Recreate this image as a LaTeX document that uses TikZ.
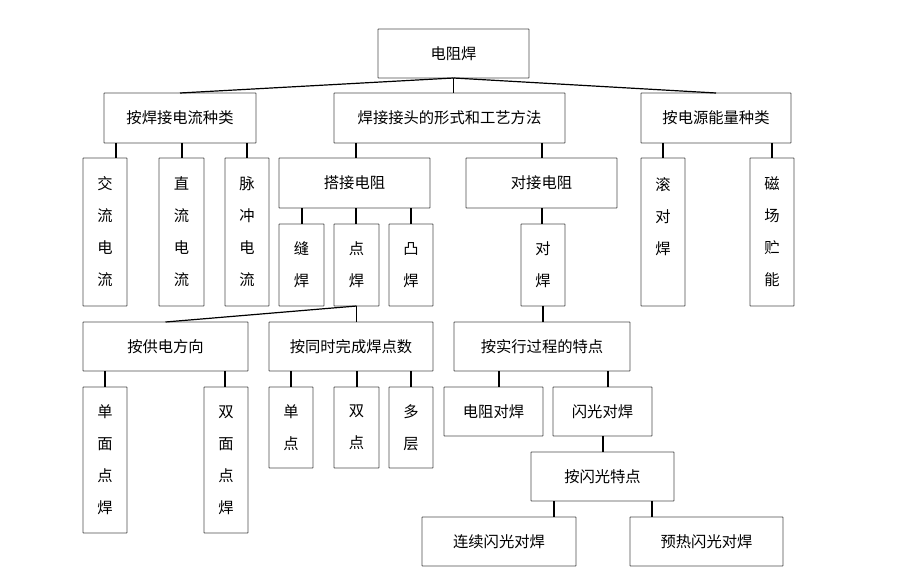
\documentclass[tikz,border=0pt]{standalone}
\usepackage{fontspec}
\newfontfamily\cjk{Noto Sans CJK SC}
\begin{document}
\begin{tikzpicture}[x=1pt,y=-1pt,
  box/.style={draw=black!70, line width=0.9pt, inner sep=0pt, outer sep=0pt,
    font=\cjk\fontsize{15.3}{32}\selectfont, align=center, rounded corners=0.6pt},
  conn/.style={draw=black, line width=1.2pt}]
\useasboundingbox (0,0) rectangle (905,575);
\newcommand\mybox[6]{%
  \node[box, minimum width={(#4-#2)*1pt}, minimum height={(#5-#3)*1pt}]
    (#1) at ({(#2+#4)/2},{(#3+#5)/2}) {#6};}
\mybox{root}{378}{29}{529}{78}{电阻焊}
\mybox{A}{104}{93}{256}{143}{按焊接电流种类}
\mybox{B}{334}{93}{565}{143}{焊接接头的形式和工艺方法}
\mybox{C}{641}{93}{791}{143}{按电源能量种类}
\mybox{A1}{83}{158}{127}{306}{交\\流\\电\\流}
\mybox{A2}{159}{158}{204}{306}{直\\流\\电\\流}
\mybox{A3}{225}{158}{269}{306}{脉\\冲\\电\\流}
\mybox{B1}{279}{158}{430}{208}{搭接电阻}
\mybox{B2}{466}{158}{617}{208}{对接电阻}
\mybox{C1}{641}{158}{685}{306}{滚\\对\\焊\\\mbox{}}
\mybox{C2}{750}{158}{794}{306}{磁\\场\\贮\\能}
\mybox{B11}{279}{224}{324}{306}{缝\\焊}
\mybox{B12}{334}{224}{379}{306}{点\\焊}
\mybox{B13}{389}{224}{433}{306}{凸\\焊}
\mybox{B21}{521}{224}{565}{306}{对\\焊}
\mybox{D1}{83}{322}{248}{371}{按供电方向}
\mybox{D2}{269}{322}{433}{371}{按同时完成焊点数}
\mybox{E}{454}{322}{630}{371}{按实行过程的特点}
\mybox{D11}{83}{387}{127}{533}{单\\面\\点\\焊}
\mybox{D12}{204}{387}{248}{533}{双\\面\\点\\焊}
\mybox{D21}{269}{387}{313}{468}{单\\点}
\mybox{D22}{334}{387}{379}{468}{双\\点}
\mybox{D23}{389}{387}{433}{468}{多\\层}
\mybox{E1}{444}{387}{543}{436}{电阻对焊}
\mybox{E2}{553}{387}{652}{436}{闪光对焊}
\mybox{F}{531}{452}{674}{501}{按闪光特点}
\mybox{F1}{422}{517}{576}{566}{连续闪光对焊}
\mybox{F2}{630}{517}{783}{566}{预热闪光对焊}
% connectors
\draw[conn] (root.south) -- (A.north);
\draw[conn] (root.south) -- (B.north -| root.south);
\draw[conn] (root.south) -- (C.north);
\draw[conn] (A.south -| 116,0) -- (A1.north -| 116,0);
\draw[conn] (A.south -| 182,0) -- (A2.north -| 182,0);
\draw[conn] (A.south -| 247,0) -- (A3.north -| 247,0);
\draw[conn] (B.south -| 356,0) -- (B1.north -| 356,0);
\draw[conn] (B.south -| 542,0) -- (B2.north -| 542,0);
\draw[conn] (C.south -| 663,0) -- (C1.north -| 663,0);
\draw[conn] (C.south -| 772,0) -- (C2.north -| 772,0);
\draw[conn] (B1.south -| 302,0) -- (B11.north -| 302,0);
\draw[conn] (B1.south -| 356,0) -- (B12.north -| 356,0);
\draw[conn] (B1.south -| 411,0) -- (B13.north -| 411,0);
\draw[conn] (B2.south -| 542,0) -- (B21.north -| 542,0);
\draw[conn] (B12.south) -- (D1.north);
\draw[conn] (B12.south) -- (D2.north -| B12.south);
\draw[conn] (B21.south -| 543,0) -- (E.north -| 543,0);
\draw[conn] (D1.south -| 105,0) -- (D11.north -| 105,0);
\draw[conn] (D1.south -| 225,0) -- (D12.north -| 225,0);
\draw[conn] (D2.south -| 291,0) -- (D21.north -| 291,0);
\draw[conn] (D2.south -| 357,0) -- (D22.north -| 357,0);
\draw[conn] (D2.south -| 411,0) -- (D23.north -| 411,0);
\draw[conn] (E.south -| 499,0) -- (E1.north -| 499,0);
\draw[conn] (E.south -| 608,0) -- (E2.north -| 608,0);
\draw[conn] (E2.south -| 603,0) -- (F.north -| 603,0);
\draw[conn] (F.south -| 554,0) -- (F1.north -| 554,0);
\draw[conn] (F.south -| 652,0) -- (F2.north -| 652,0);
\end{tikzpicture}
\end{document}
